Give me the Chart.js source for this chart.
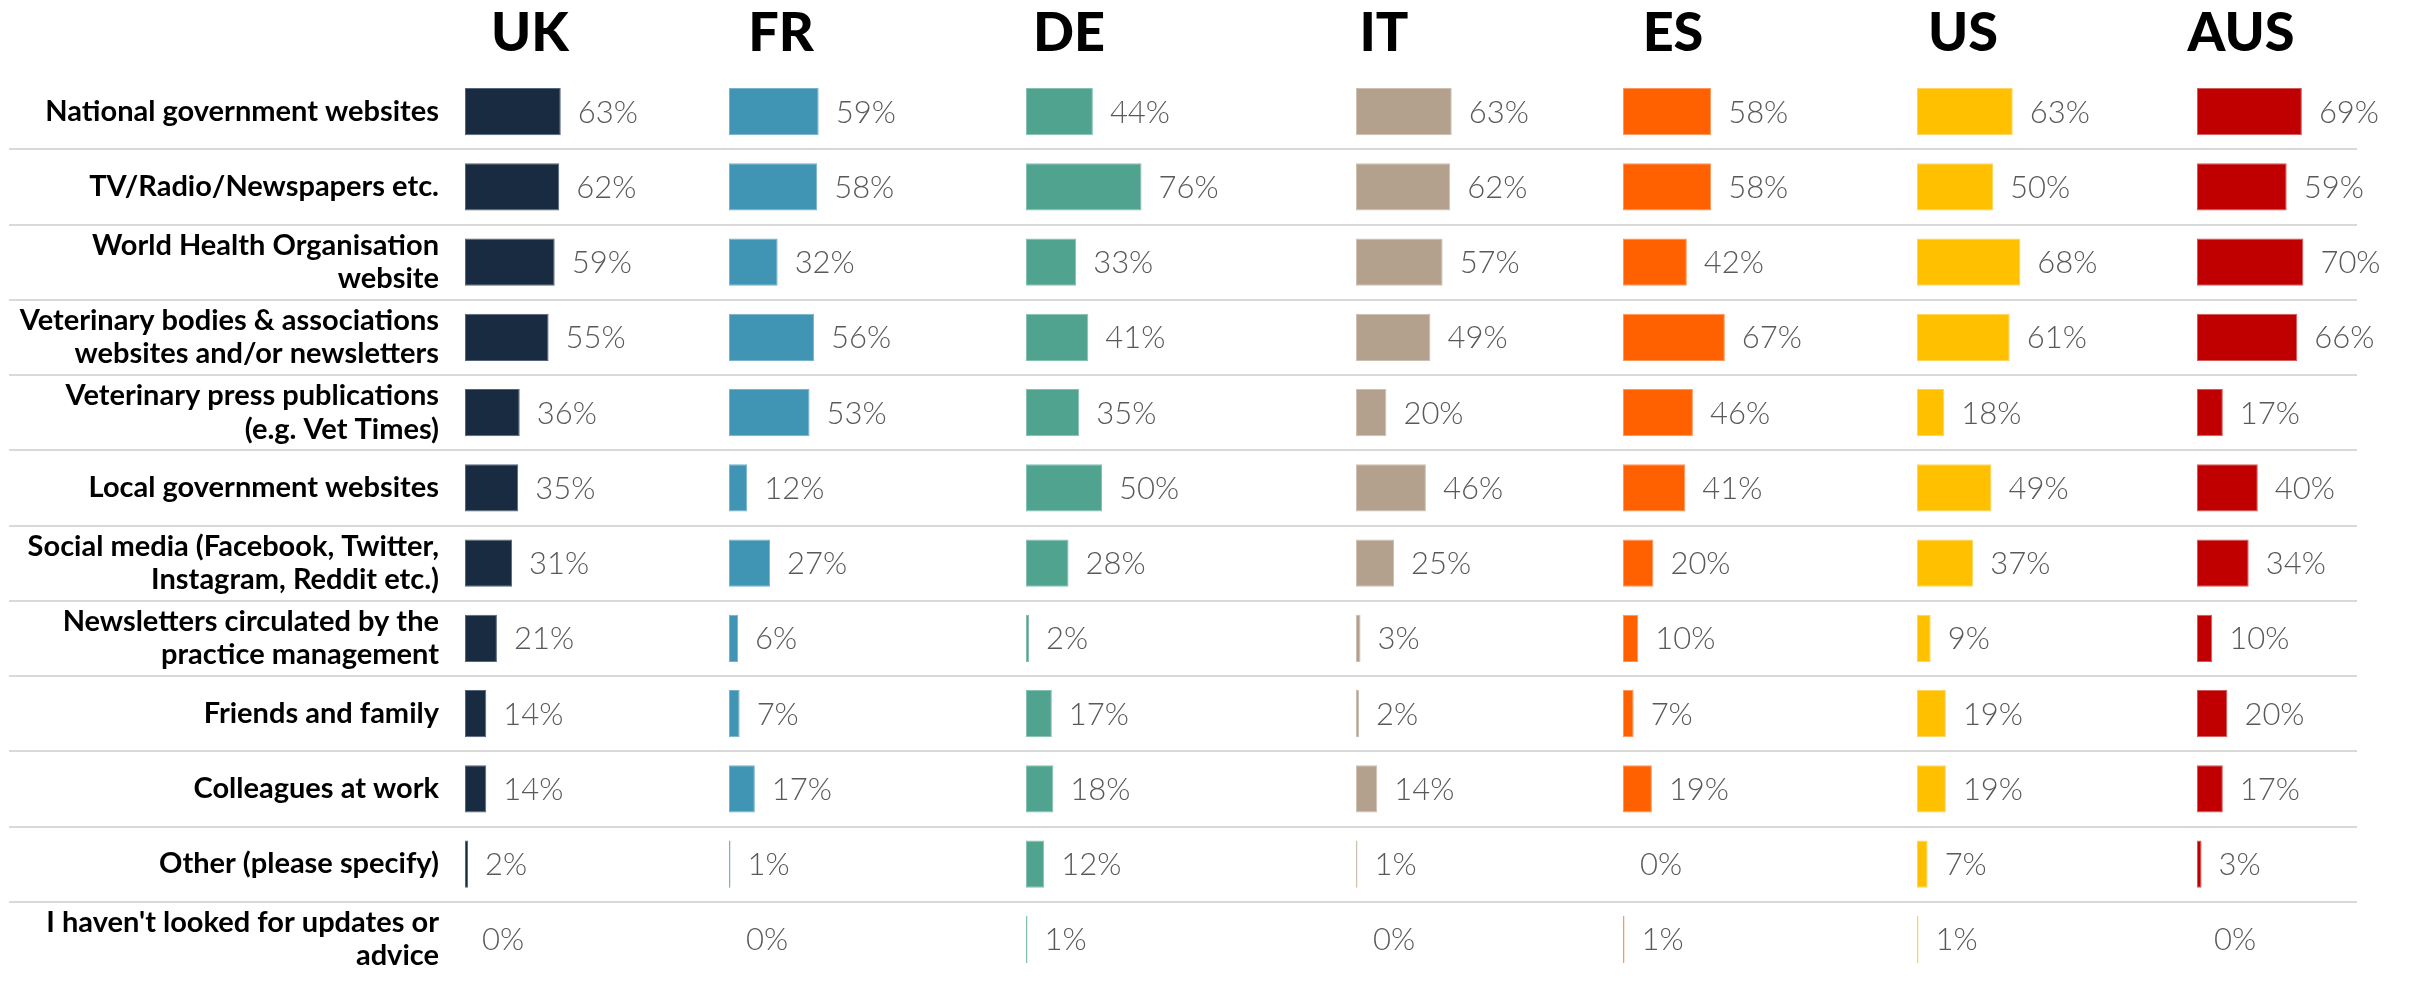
<!DOCTYPE html>
<html>
<head>
<meta charset="utf-8">
<script src="https://cdn.jsdelivr.net/npm/chart.js@4.4.0/dist/chart.umd.min.js"></script>
<style>
  html, body { margin: 0; padding: 0; background: #ffffff; }
  #chart { display: block; }
</style>
</head>
<body>
<canvas id="chart" width="2410" height="985"></canvas>
<script>
// Categories (multi-line labels as arrays)
const categories = [
    'National government websites',
    'TV/Radio/Newspapers etc.',
    ['World Health Organisation', 'website'],
    ['Veterinary bodies & associations', 'websites and/or newsletters'],
    ['Veterinary press publications', '(e.g. Vet Times)'],
    'Local government websites',
    ['Social media (Facebook, Twitter,', 'Instagram, Reddit etc.)'],
    ['Newsletters circulated by the', 'practice management'],
    'Friends and family',
    'Colleagues at work',
    'Other (please specify)',
    ["I haven't looked for updates or", 'advice']
];

const countries = ['UK', 'FR', 'DE', 'IT', 'ES', 'US', 'AUS'];

// % per country, same order as categories
const ukValues  = [63, 62, 59, 55, 36, 35, 31, 21, 14, 14, 2, 0];
const frValues  = [59, 58, 32, 56, 53, 12, 27, 6, 7, 17, 1, 0];
const deValues  = [44, 76, 33, 41, 35, 50, 28, 2, 17, 18, 12, 1];
const itValues  = [63, 62, 57, 49, 20, 46, 25, 3, 2, 14, 1, 0];
const esValues  = [58, 58, 42, 67, 46, 41, 20, 10, 7, 19, 0, 1];
const usValues  = [63, 50, 68, 61, 18, 49, 37, 9, 19, 19, 7, 1];
const ausValues = [69, 59, 70, 66, 17, 40, 34, 10, 20, 17, 3, 0];

const seriesValues = [ukValues, frValues, deValues, itValues, esValues, usValues, ausValues];

// Colours
const barColors    = ['#182b40', '#4094b4', '#50a38f', '#b3a18d', '#ff6000', '#ffc000', '#c00000'];
const borderColors = ['#56667a', '#78b3cb', '#86c0b1', '#cdc0b2', '#ff955a', '#ffd45e', '#d45a5a'];

// Layout: width of each country panel (px) and title centre offset from bar start
const panelWidths  = [264, 297, 330, 267, 294, 280, 160];
const titleOffsets = [65, 52, 43, 28, 50, 46, 44];
const PX_PER_PCT = 1.52;

const gridColor = ctx => (ctx.index > 0 ? '#d9d9d9' : 'rgba(0,0,0,0)');

// One x axis per country, stacked side by side along the bottom
const scales = {
    y: {
        type: 'category',
        position: 'left',
        offset: true,
        grid: {
            offset: true,
            color: gridColor,
            lineWidth: 2,
            drawTicks: true,
            tickLength: 456
        },
        border: { display: false },
        ticks: {
            autoSkip: false,
            padding: -430,
            color: '#000000',
            font: { family: 'Lato', weight: 'bold', size: 29, lineHeight: 1.14 }
        },
        afterFit: scale => { scale.width = 465; }
    }
};
countries.forEach((c, i) => {
    scales['x' + i] = {
        type: 'linear',
        position: 'bottom',
        stack: 'panels',
        stackWeight: panelWidths[i],
        min: 0,
        max: panelWidths[i] / PX_PER_PCT,
        display: false
    };
});

const datasets = countries.map((c, i) => ({
    label: c,
    data: seriesValues[i],
    xAxisID: 'x' + i,
    yAxisID: 'y',
    grouped: false,
    backgroundColor: barColors[i],
    borderColor: borderColors[i],
    borderWidth: 1,
    borderSkipped: false,
    barPercentage: 0.625,
    categoryPercentage: 1
}));

// Percent labels right of each bar
const valueLabels = {
    id: 'valueLabels',
    afterDatasetsDraw(chart) {
        const ctx = chart.ctx;
        ctx.save();
        ctx.font = '300 31px Lato';
        ctx.fillStyle = '#595959';
        ctx.textAlign = 'left';
        ctx.textBaseline = 'middle';
        chart.data.datasets.forEach((ds, i) => {
            chart.getDatasetMeta(i).data.forEach((bar, j) => {
                ctx.fillText(ds.data[j] + '%', bar.x + 17, bar.y + 1);
            });
        });
        ctx.restore();
    }
};

// Country headings above each panel
const countryTitles = {
    id: 'countryTitles',
    afterDraw(chart) {
        const ctx = chart.ctx;
        ctx.save();
        ctx.font = '900 54px Lato';
        ctx.fillStyle = '#000000';
        ctx.textAlign = 'center';
        ctx.textBaseline = 'alphabetic';
        countries.forEach((name, i) => {
            const scale = chart.scales['x' + i];
            ctx.fillText(name, scale.left + titleOffsets[i], 51);
        });
        ctx.restore();
    }
};

new Chart(document.getElementById('chart'), {
    type: 'bar',
    data: { labels: categories, datasets: datasets },
    options: {
        indexAxis: 'y',
        responsive: false,
        animation: false,
        devicePixelRatio: 1,
        layout: { padding: { top: 74, right: 53, bottom: 8, left: 0 } },
        plugins: {
            legend: { display: false },
            tooltip: { enabled: false }
        },
        scales: scales
    },
    plugins: [valueLabels, countryTitles]
});
</script>
</body>
</html>
